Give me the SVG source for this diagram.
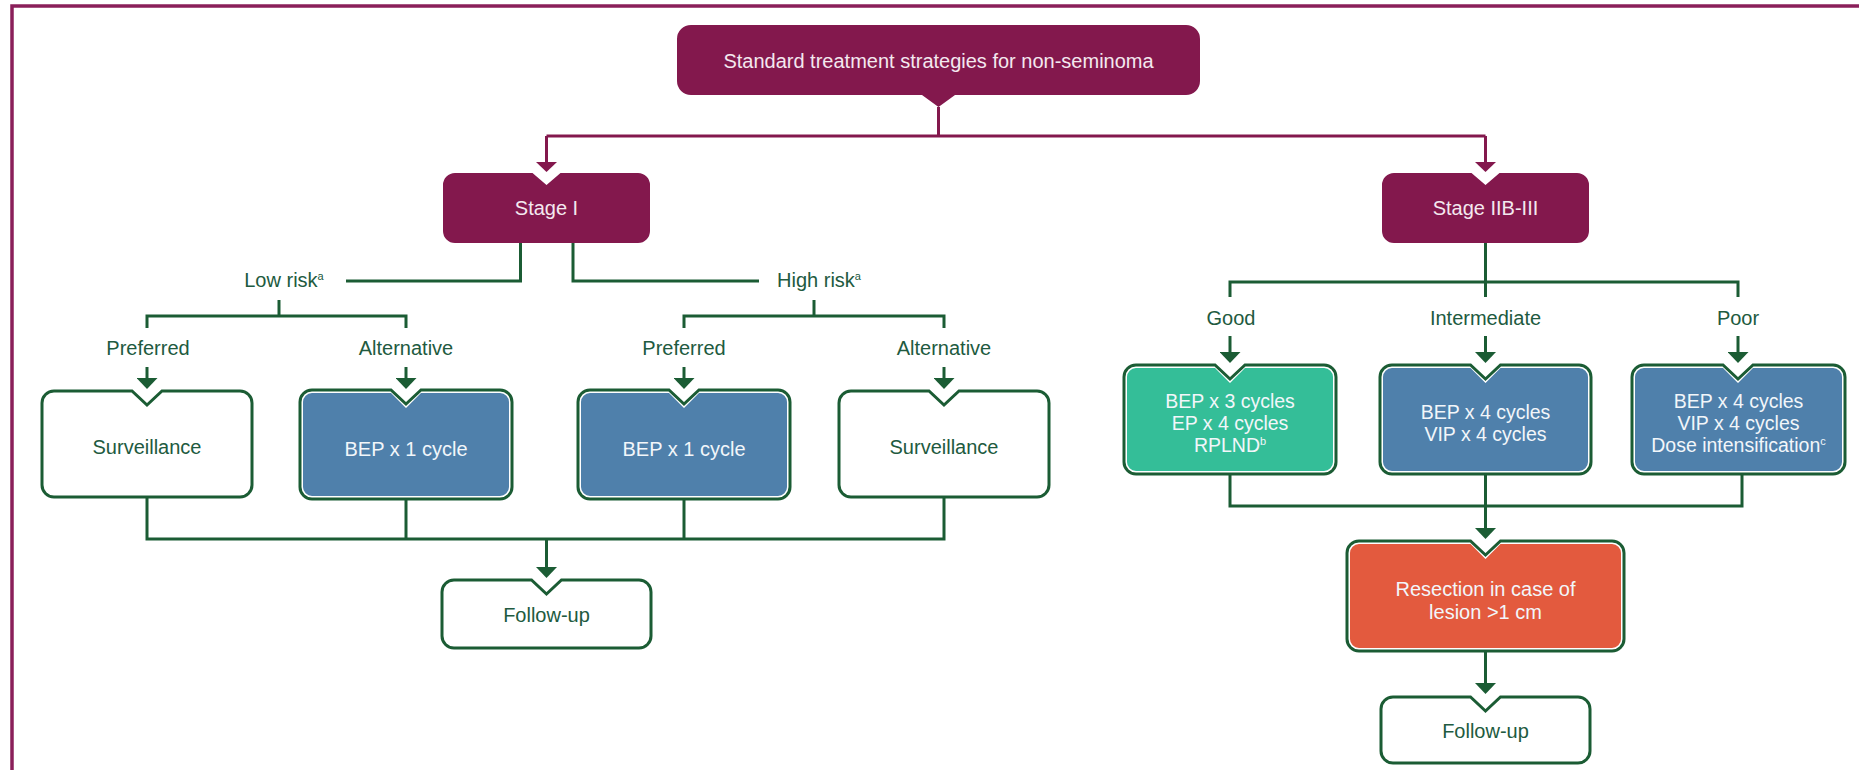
<svg xmlns="http://www.w3.org/2000/svg" width="1859" height="770" viewBox="0 0 1859 770">
<style>
.pur{fill:#83184d}
.ptx{fill:#f4e8ef;font-family:"Liberation Sans",Arial,sans-serif;font-size:20px;text-anchor:middle}
.lt{fill:#ffffff;stroke:#1b5c34;stroke-width:3}
.blue{fill:#4f80ab}
.teal{fill:#34be98}
.red{fill:#e35a3e}
.wtx{fill:#f2f6fa;font-family:"Liberation Sans",Arial,sans-serif;font-size:19.5px;text-anchor:middle}
.gtx{fill:#215a40;font-family:"Liberation Sans",Arial,sans-serif;font-size:20px;text-anchor:middle}
.sup{font-size:11px}
.gc{fill:none;stroke:#1b5c34;stroke-width:3}
.pc{fill:none;stroke:#83184d;stroke-width:3}
</style>
<defs>
<marker id="ag" markerUnits="userSpaceOnUse" markerWidth="11" markerHeight="21" viewBox="0 0 11 21" refX="0" refY="10.5" orient="auto"><path d="M0,0 L11,10.5 L0,21 Z" fill="#1b5c34"/></marker>
<marker id="ap" markerUnits="userSpaceOnUse" markerWidth="10" markerHeight="21" viewBox="0 0 10 21" refX="0" refY="10.5" orient="auto"><path d="M0,0 L10,10.5 L0,21 Z" fill="#83184d"/></marker>
</defs>
<rect width="1859" height="770" fill="#ffffff"/>
<path d="M12,770 V6 H1859" fill="none" stroke="#8a1f5a" stroke-width="3.5"/>

<g id="connectors">
<path class="pc" d="M938.5,107 V136"/>
<path class="pc" d="M546.5,136 H1485.5"/>
<path class="pc" d="M546.5,136 V162" marker-end="url(#ap)"/>
<path class="pc" d="M1485.5,136 V162" marker-end="url(#ap)"/>
<path class="gc" d="M520.5,243 V281 H346"/>
<path class="gc" d="M573,243 V281 H759"/>
<path class="gc" d="M279,300 V316"/>
<path class="gc" d="M147,328 V316 H406 V328"/>
<path class="gc" d="M814,300 V316"/>
<path class="gc" d="M684,328 V316 H944 V328"/>
<path class="gc" d="M147,367 V378" marker-end="url(#ag)"/>
<path class="gc" d="M406,367 V378" marker-end="url(#ag)"/>
<path class="gc" d="M684,367 V378" marker-end="url(#ag)"/>
<path class="gc" d="M944,367 V378" marker-end="url(#ag)"/>
<path class="gc" d="M147,497 V539 H944 V497"/>
<path class="gc" d="M406,499 V539"/>
<path class="gc" d="M684,499 V539"/>
<path class="gc" d="M546.5,539 V567" marker-end="url(#ag)"/>
<path class="gc" d="M1485.5,243 V297"/>
<path class="gc" d="M1230,297 V282 H1738 V297"/>
<path class="gc" d="M1230,336 V352" marker-end="url(#ag)"/>
<path class="gc" d="M1485.5,336 V352" marker-end="url(#ag)"/>
<path class="gc" d="M1738,336 V352" marker-end="url(#ag)"/>
<path class="gc" d="M1230,474 V506 H1742 V474"/>
<path class="gc" d="M1485.5,474 V528" marker-end="url(#ag)"/>
<path class="gc" d="M1485.5,651 V683" marker-end="url(#ag)"/>
</g>

<g id="labels">
<text class="gtx" x="284" y="287">Low risk<tspan class="sup" dy="-7">a</tspan></text>
<text class="gtx" x="819" y="287">High risk<tspan class="sup" dy="-7">a</tspan></text>
<text class="gtx" x="148" y="355">Preferred</text>
<text class="gtx" x="406" y="355">Alternative</text>
<text class="gtx" x="684" y="355">Preferred</text>
<text class="gtx" x="944" y="355">Alternative</text>
<text class="gtx" x="1231" y="325">Good</text>
<text class="gtx" x="1485.5" y="325">Intermediate</text>
<text class="gtx" x="1738" y="325">Poor</text>
</g>

<g id="root">
<path class="pur" d="M691,25 H1186 A14,14 0 0 1 1200,39 V81 A14,14 0 0 1 1186,95 H955 L938.5,107 L922,95 H691 A14,14 0 0 1 677,81 V39 A14,14 0 0 1 691,25 Z"/>
<text class="ptx" x="938.5" y="68">Standard treatment strategies for non-seminoma</text>
</g>

<g id="stage1">
<path class="pur" d="M455,173 H532.5 L546.5,185 L560.5,173 H638 A12,12 0 0 1 650,185 V231 A12,12 0 0 1 638,243 H455 A12,12 0 0 1 443,231 V185 A12,12 0 0 1 455,173 Z"/>
<text class="ptx" x="546.5" y="215">Stage I</text>
</g>

<g id="stage2">
<path class="pur" d="M1394,173 H1471.5 L1485.5,185 L1499.5,173 H1577 A12,12 0 0 1 1589,185 V231 A12,12 0 0 1 1577,243 H1394 A12,12 0 0 1 1382,231 V185 A12,12 0 0 1 1394,173 Z"/>
<text class="ptx" x="1485.5" y="215">Stage IIB-III</text>
</g>

<g id="low-preferred">
<path class="lt" d="M54,391 H132 L147,405 L162,391 H240 A12,12 0 0 1 252,403 V485 A12,12 0 0 1 240,497 H54 A12,12 0 0 1 42,485 V403 A12,12 0 0 1 54,391 Z"/>
<text class="gtx" x="147" y="454">Surveillance</text>
</g>

<g id="low-alternative">
<path class="lt" d="M312,390 H391 L406,404 L421,390 H500 A12,12 0 0 1 512,402 V487 A12,12 0 0 1 500,499 H312 A12,12 0 0 1 300,487 V402 A12,12 0 0 1 312,390 Z"/>
<path class="blue" d="M312,393 H391 L406,408 L421,393 H500 A9,9 0 0 1 509,402 V487 A9,9 0 0 1 500,496 H312 A9,9 0 0 1 303,487 V402 A9,9 0 0 1 312,393 Z"/>
<text class="wtx" x="406" y="456" style="font-size:20px">BEP x 1 cycle</text>
</g>

<g id="high-preferred">
<path class="lt" d="M590,390 H669 L684,404 L699,390 H778 A12,12 0 0 1 790,402 V487 A12,12 0 0 1 778,499 H590 A12,12 0 0 1 578,487 V402 A12,12 0 0 1 590,390 Z"/>
<path class="blue" d="M590,393 H669 L684,408 L699,393 H778 A9,9 0 0 1 787,402 V487 A9,9 0 0 1 778,496 H590 A9,9 0 0 1 581,487 V402 A9,9 0 0 1 590,393 Z"/>
<text class="wtx" x="684" y="456" style="font-size:20px">BEP x 1 cycle</text>
</g>

<g id="high-alternative">
<path class="lt" d="M851,391 H929 L944,405 L959,391 H1037 A12,12 0 0 1 1049,403 V485 A12,12 0 0 1 1037,497 H851 A12,12 0 0 1 839,485 V403 A12,12 0 0 1 851,391 Z"/>
<text class="gtx" x="944" y="454">Surveillance</text>
</g>

<g id="followup-left">
<path class="lt" d="M454,580 H531.5 L546.5,594 L561.5,580 H639 A12,12 0 0 1 651,592 V636 A12,12 0 0 1 639,648 H454 A12,12 0 0 1 442,636 V592 A12,12 0 0 1 454,580 Z"/>
<text class="gtx" x="546.5" y="622">Follow-up</text>
</g>

<g id="good">
<path class="lt" d="M1136,365 H1215 L1230,379 L1245,365 H1324 A12,12 0 0 1 1336,377 V462 A12,12 0 0 1 1324,474 H1136 A12,12 0 0 1 1124,462 V377 A12,12 0 0 1 1136,365 Z"/>
<path class="teal" d="M1136,368 H1215 L1230,383 L1245,368 H1324 A9,9 0 0 1 1333,377 V462 A9,9 0 0 1 1324,471 H1136 A9,9 0 0 1 1127,462 V377 A9,9 0 0 1 1136,368 Z"/>
<text class="wtx" x="1230" y="408">BEP x 3 cycles</text>
<text class="wtx" x="1230" y="430">EP x 4 cycles</text>
<text class="wtx" x="1230" y="452">RPLND<tspan class="sup" dy="-7">b</tspan></text>
</g>

<g id="intermediate">
<path class="lt" d="M1392,365 H1470.5 L1485.5,379 L1500.5,365 H1579 A12,12 0 0 1 1591,377 V462 A12,12 0 0 1 1579,474 H1392 A12,12 0 0 1 1380,462 V377 A12,12 0 0 1 1392,365 Z"/>
<path class="blue" d="M1392,368 H1470.5 L1485.5,383 L1500.5,368 H1579 A9,9 0 0 1 1588,377 V462 A9,9 0 0 1 1579,471 H1392 A9,9 0 0 1 1383,462 V377 A9,9 0 0 1 1392,368 Z"/>
<text class="wtx" x="1485.5" y="419">BEP x 4 cycles</text>
<text class="wtx" x="1485.5" y="441">VIP x 4 cycles</text>
</g>

<g id="poor">
<path class="lt" d="M1644,365 H1723 L1738,379 L1753,365 H1833 A12,12 0 0 1 1845,377 V462 A12,12 0 0 1 1833,474 H1644 A12,12 0 0 1 1632,462 V377 A12,12 0 0 1 1644,365 Z"/>
<path class="blue" d="M1644,368 H1723 L1738,383 L1753,368 H1833 A9,9 0 0 1 1842,377 V462 A9,9 0 0 1 1833,471 H1644 A9,9 0 0 1 1635,462 V377 A9,9 0 0 1 1644,368 Z"/>
<text class="wtx" x="1738.5" y="408">BEP x 4 cycles</text>
<text class="wtx" x="1738.5" y="430">VIP x 4 cycles</text>
<text class="wtx" x="1738.5" y="452">Dose intensification<tspan class="sup" dy="-7">c</tspan></text>
</g>

<g id="resection">
<path class="lt" d="M1359,541 H1470.5 L1485.5,555 L1500.5,541 H1612 A12,12 0 0 1 1624,553 V639 A12,12 0 0 1 1612,651 H1359 A12,12 0 0 1 1347,639 V553 A12,12 0 0 1 1359,541 Z"/>
<path class="red" d="M1359,544 H1470.5 L1485.5,559 L1500.5,544 H1612 A9,9 0 0 1 1621,553 V639 A9,9 0 0 1 1612,648 H1359 A9,9 0 0 1 1350,639 V553 A9,9 0 0 1 1359,544 Z"/>
<text class="wtx" x="1485.5" y="596" style="font-size:20px">Resection in case of</text>
<text class="wtx" x="1485.5" y="619" style="font-size:20px">lesion &gt;1 cm</text>
</g>

<g id="followup-right">
<path class="lt" d="M1393,697 H1470.5 L1485.5,711 L1500.5,697 H1578 A12,12 0 0 1 1590,709 V751 A12,12 0 0 1 1578,763 H1393 A12,12 0 0 1 1381,751 V709 A12,12 0 0 1 1393,697 Z"/>
<text class="gtx" x="1485.5" y="738">Follow-up</text>
</g>
</svg>
